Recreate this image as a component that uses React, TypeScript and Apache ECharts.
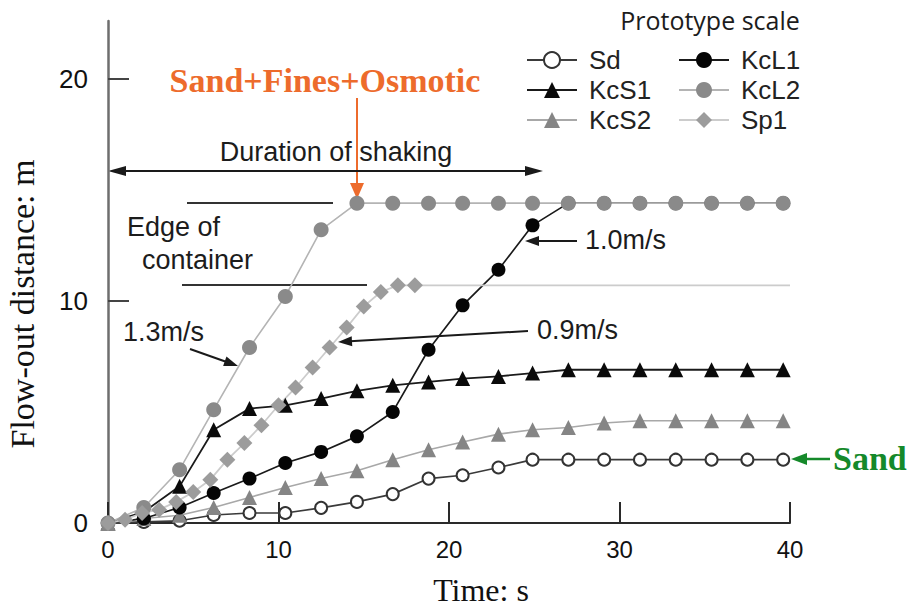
import { useEffect, useRef } from 'react';
import * as echarts from 'echarts';

// Sampling times (s) shared by the 2 s-interval series
const timeSteps = [0, 2.1, 4.2, 6.2, 8.3, 10.4, 12.5, 14.6, 16.7, 18.8, 20.8, 22.9, 24.9, 27.0, 29.1, 31.2, 33.3, 35.4, 37.5, 39.6];
// Sp1 was sampled every second; its final point only carries the level line to the end
const sp1Times = [0, 1, 2, 3, 4, 5, 6, 7, 8, 9, 10, 11, 12, 13, 14, 15, 16, 17, 18, 40];

// Flow-out distance (m)
const sdValues = [0, 0.05, 0.1, 0.36, 0.45, 0.45, 0.68, 0.95, 1.3, 2.0, 2.15, 2.5, 2.85, 2.85, 2.85, 2.85, 2.85, 2.85, 2.85, 2.85];
const kcS1Values = [0, 0.5, 1.65, 4.2, 5.15, 5.3, 5.6, 5.95, 6.2, 6.35, 6.5, 6.6, 6.75, 6.9, 6.9, 6.9, 6.9, 6.9, 6.9, 6.9];
const kcS2Values = [0, 0.2, 0.35, 0.7, 1.15, 1.6, 2.0, 2.35, 2.85, 3.3, 3.65, 4.0, 4.2, 4.3, 4.5, 4.6, 4.6, 4.6, 4.6, 4.6];
const kcL1Values = [0, 0.2, 0.7, 1.35, 2.0, 2.7, 3.2, 3.9, 5.0, 7.8, 9.8, 11.4, 13.4, 14.4, 14.4, 14.4, 14.4, 14.4, 14.4, 14.4];
const kcL2Values = [0, 0.7, 2.4, 5.1, 7.9, 10.2, 13.2, 14.4, 14.4, 14.4, 14.4, 14.4, 14.4, 14.4, 14.4, 14.4, 14.4, 14.4, 14.4, 14.4];
const sp1Values = [0, 0.15, 0.45, 0.6, 0.95, 1.4, 1.95, 2.85, 3.6, 4.4, 5.3, 6.1, 7.0, 7.9, 8.8, 9.75, 10.4, 10.7, 10.7, 10.7];

const legendLeft = ['Sd', 'KcS1', 'KcS2'];
const legendRight = ['KcL1', 'KcL2', 'Sp1'];
const xTicks = [0, 10, 20, 30, 40];
const yTicks = [0, 10, 20];

const SANS = '"Liberation Sans", Arial, sans-serif';
const SERIF = '"Liberation Serif", "Times New Roman", serif';

type Look = { symbol: string; size: number; fill: string; border: string; line: string; width: number };
const looks: Record<string, Look> = {
  Sd: { symbol: 'circle', size: 12, fill: '#ffffff', border: '#333333', line: '#3a3a3a', width: 1.7 },
  KcS1: { symbol: 'triangle', size: 15, fill: '#0a0a0a', border: '#0a0a0a', line: '#1a1a1a', width: 1.8 },
  KcS2: { symbol: 'triangle', size: 15, fill: '#858585', border: '#858585', line: '#a8a8a8', width: 1.6 },
  KcL1: { symbol: 'circle', size: 14, fill: '#050505', border: '#050505', line: '#1a1a1a', width: 1.7 },
  KcL2: { symbol: 'circle', size: 15, fill: '#8a8a8a', border: '#8a8a8a', line: '#b4b4b4', width: 1.6 },
  Sp1: { symbol: 'diamond', size: 16, fill: '#9c9c9c', border: '#9c9c9c', line: '#cccccc', width: 1.8 },
};

function pairs(times: number[], values: number[]) {
  return times.map((t, i) => [t, values[i]]);
}

function makeSeries(name: string, data: any[]) {
  const s = looks[name];
  return {
    name,
    type: 'line',
    data,
    symbol: s.symbol,
    symbolSize: s.size,
    showAllSymbol: true,
    lineStyle: { color: s.line, width: s.width },
    itemStyle: { color: s.fill, borderColor: s.border, borderWidth: s.fill === '#ffffff' ? 2 : 0 },
    emphasis: { disabled: true },
  };
}

function arrowHead(tip: [number, number], from: [number, number], len: number, half: number, color: string) {
  const dx = tip[0] - from[0];
  const dy = tip[1] - from[1];
  const d = Math.hypot(dx, dy);
  const ux = dx / d;
  const uy = dy / d;
  const bx = tip[0] - ux * len;
  const by = tip[1] - uy * len;
  return {
    type: 'polygon',
    shape: { points: [tip, [bx - uy * half, by + ux * half], [bx + uy * half, by - ux * half]] },
    style: { fill: color },
    silent: true,
  };
}

function arrow(from: [number, number], tip: [number, number], color: string, width: number, len = 14, half = 5) {
  const dx = tip[0] - from[0];
  const dy = tip[1] - from[1];
  const d = Math.hypot(dx, dy);
  const end: [number, number] = [tip[0] - (dx / d) * (len - 2), tip[1] - (dy / d) * (len - 2)];
  return [
    { type: 'line', shape: { x1: from[0], y1: from[1], x2: end[0], y2: end[1] }, style: { stroke: color, lineWidth: width }, silent: true },
    arrowHead(tip, from, len, half, color),
  ];
}

function label(text: string, x: number, y: number, opts: any = {}) {
  return {
    type: 'text',
    x,
    y,
    rotation: opts.rotation || 0,
    silent: true,
    style: {
      text,
      fontSize: opts.size || 27,
      fontFamily: opts.family || SANS,
      fontWeight: opts.weight || 'normal',
      fill: opts.color || '#1c1c1c',
      align: opts.align || 'left',
      verticalAlign: 'middle',
    },
  };
}

export default function App() {
  const ref = useRef<HTMLDivElement>(null);

  useEffect(() => {
    const chart = echarts.init(ref.current!, null, { renderer: 'svg' });

    const sp1Data = sp1Times.map((t, i) =>
      i === sp1Times.length - 1 ? { value: [t, sp1Values[i]], symbol: 'none' } : [t, sp1Values[i]]
    );

    const legendCommon = {
      orient: 'vertical',
      top: 47,
      padding: 0,
      itemWidth: 50,
      itemHeight: 20,
      itemGap: 4,
      selectedMode: false,
      textStyle: { fontSize: 26, lineHeight: 26, fontFamily: SANS, color: '#222', padding: [0, 0, 0, 7] },
    };

    const dark = '#1a1a1a';
    const orange = '#ED6B2C';
    const green = '#15892A';

    chart.setOption({
      animation: false,
      backgroundColor: '#ffffff',
      grid: { left: 108, right: 123, top: 21, bottom: 86 },
      legend: [
        { ...legendCommon, left: 526, data: legendLeft },
        { ...legendCommon, left: 678, data: legendRight },
      ],
      xAxis: {
        type: 'value',
        min: 0,
        max: 40,
        interval: 10,
        splitLine: { show: false },
        axisLine: { lineStyle: { color: '#2a2a2a', width: 2 } },
        axisTick: { inside: true, length: 21, customValues: xTicks, lineStyle: { color: '#2a2a2a', width: 2 } },
        axisLabel: { customValues: xTicks, fontSize: 24, fontFamily: SANS, color: '#111', margin: 14 },
      },
      yAxis: {
        type: 'value',
        min: 0,
        max: 22.6,
        interval: 10,
        splitLine: { show: false },
        axisLine: { show: true, lineStyle: { color: '#6e6e6e', width: 2.5 } },
        axisTick: { show: true, inside: true, length: 21, customValues: yTicks, lineStyle: { color: '#444', width: 2 } },
        axisLabel: { customValues: yTicks, fontSize: 26, fontFamily: SANS, color: '#111', margin: 20 },
      },
      series: [
        makeSeries('Sd', pairs(timeSteps, sdValues)),
        makeSeries('KcS1', pairs(timeSteps, kcS1Values)),
        makeSeries('KcS2', pairs(timeSteps, kcS2Values)),
        makeSeries('KcL1', pairs(timeSteps, kcL1Values)),
        makeSeries('KcL2', pairs(timeSteps, kcL2Values)),
        makeSeries('Sp1', sp1Data),
      ],
      graphic: [
        label('Prototype scale', 710, 20, { size: 25, family: '"Open Sans", "Noto Sans", sans-serif', align: 'center' }),
        label('Sand+Fines+Osmotic', 325, 80, { size: 34, family: SERIF, weight: 'bold', color: orange, align: 'center' }),
        ...arrow([357, 98], [357, 199], orange, 2, 16, 7),
        label('Duration of shaking', 336, 152, { align: 'center' }),
        ...arrow([330, 171], [108, 171], dark, 2, 18, 5),
        ...arrow([330, 171], [543, 171], dark, 2, 18, 5),
        { type: 'line', shape: { x1: 187, y1: 203, x2: 333, y2: 203 }, style: { stroke: '#333', lineWidth: 2 }, silent: true },
        { type: 'line', shape: { x1: 182, y1: 285, x2: 367, y2: 285 }, style: { stroke: '#333', lineWidth: 2 }, silent: true },
        label('Edge of', 127, 227),
        label('container', 142, 260),
        label('1.3m/s', 123, 332),
        ...arrow([190, 349], [238, 366], dark, 2),
        label('0.9m/s', 537, 330),
        ...arrow([528, 331], [338, 342], dark, 2),
        label('1.0m/s', 585, 240),
        ...arrow([577, 241], [525, 241], dark, 2),
        label('Sand', 833, 458, { size: 34, family: SERIF, weight: 'bold', color: green }),
        ...arrow([830, 459], [791, 459], green, 2.5, 16, 6),
        label('Flow-out distance: m', 22, 304, { size: 34, family: SERIF, align: 'center', rotation: Math.PI / 2, color: '#111' }),
        label('Time: s', 481, 590, { size: 32, family: SERIF, align: 'center', color: '#111' }),
      ],
    });

    return () => chart.dispose();
  }, []);

  return <div ref={ref} style={{ position: 'fixed', left: 0, top: 0, width: 913, height: 609 }} />;
}
